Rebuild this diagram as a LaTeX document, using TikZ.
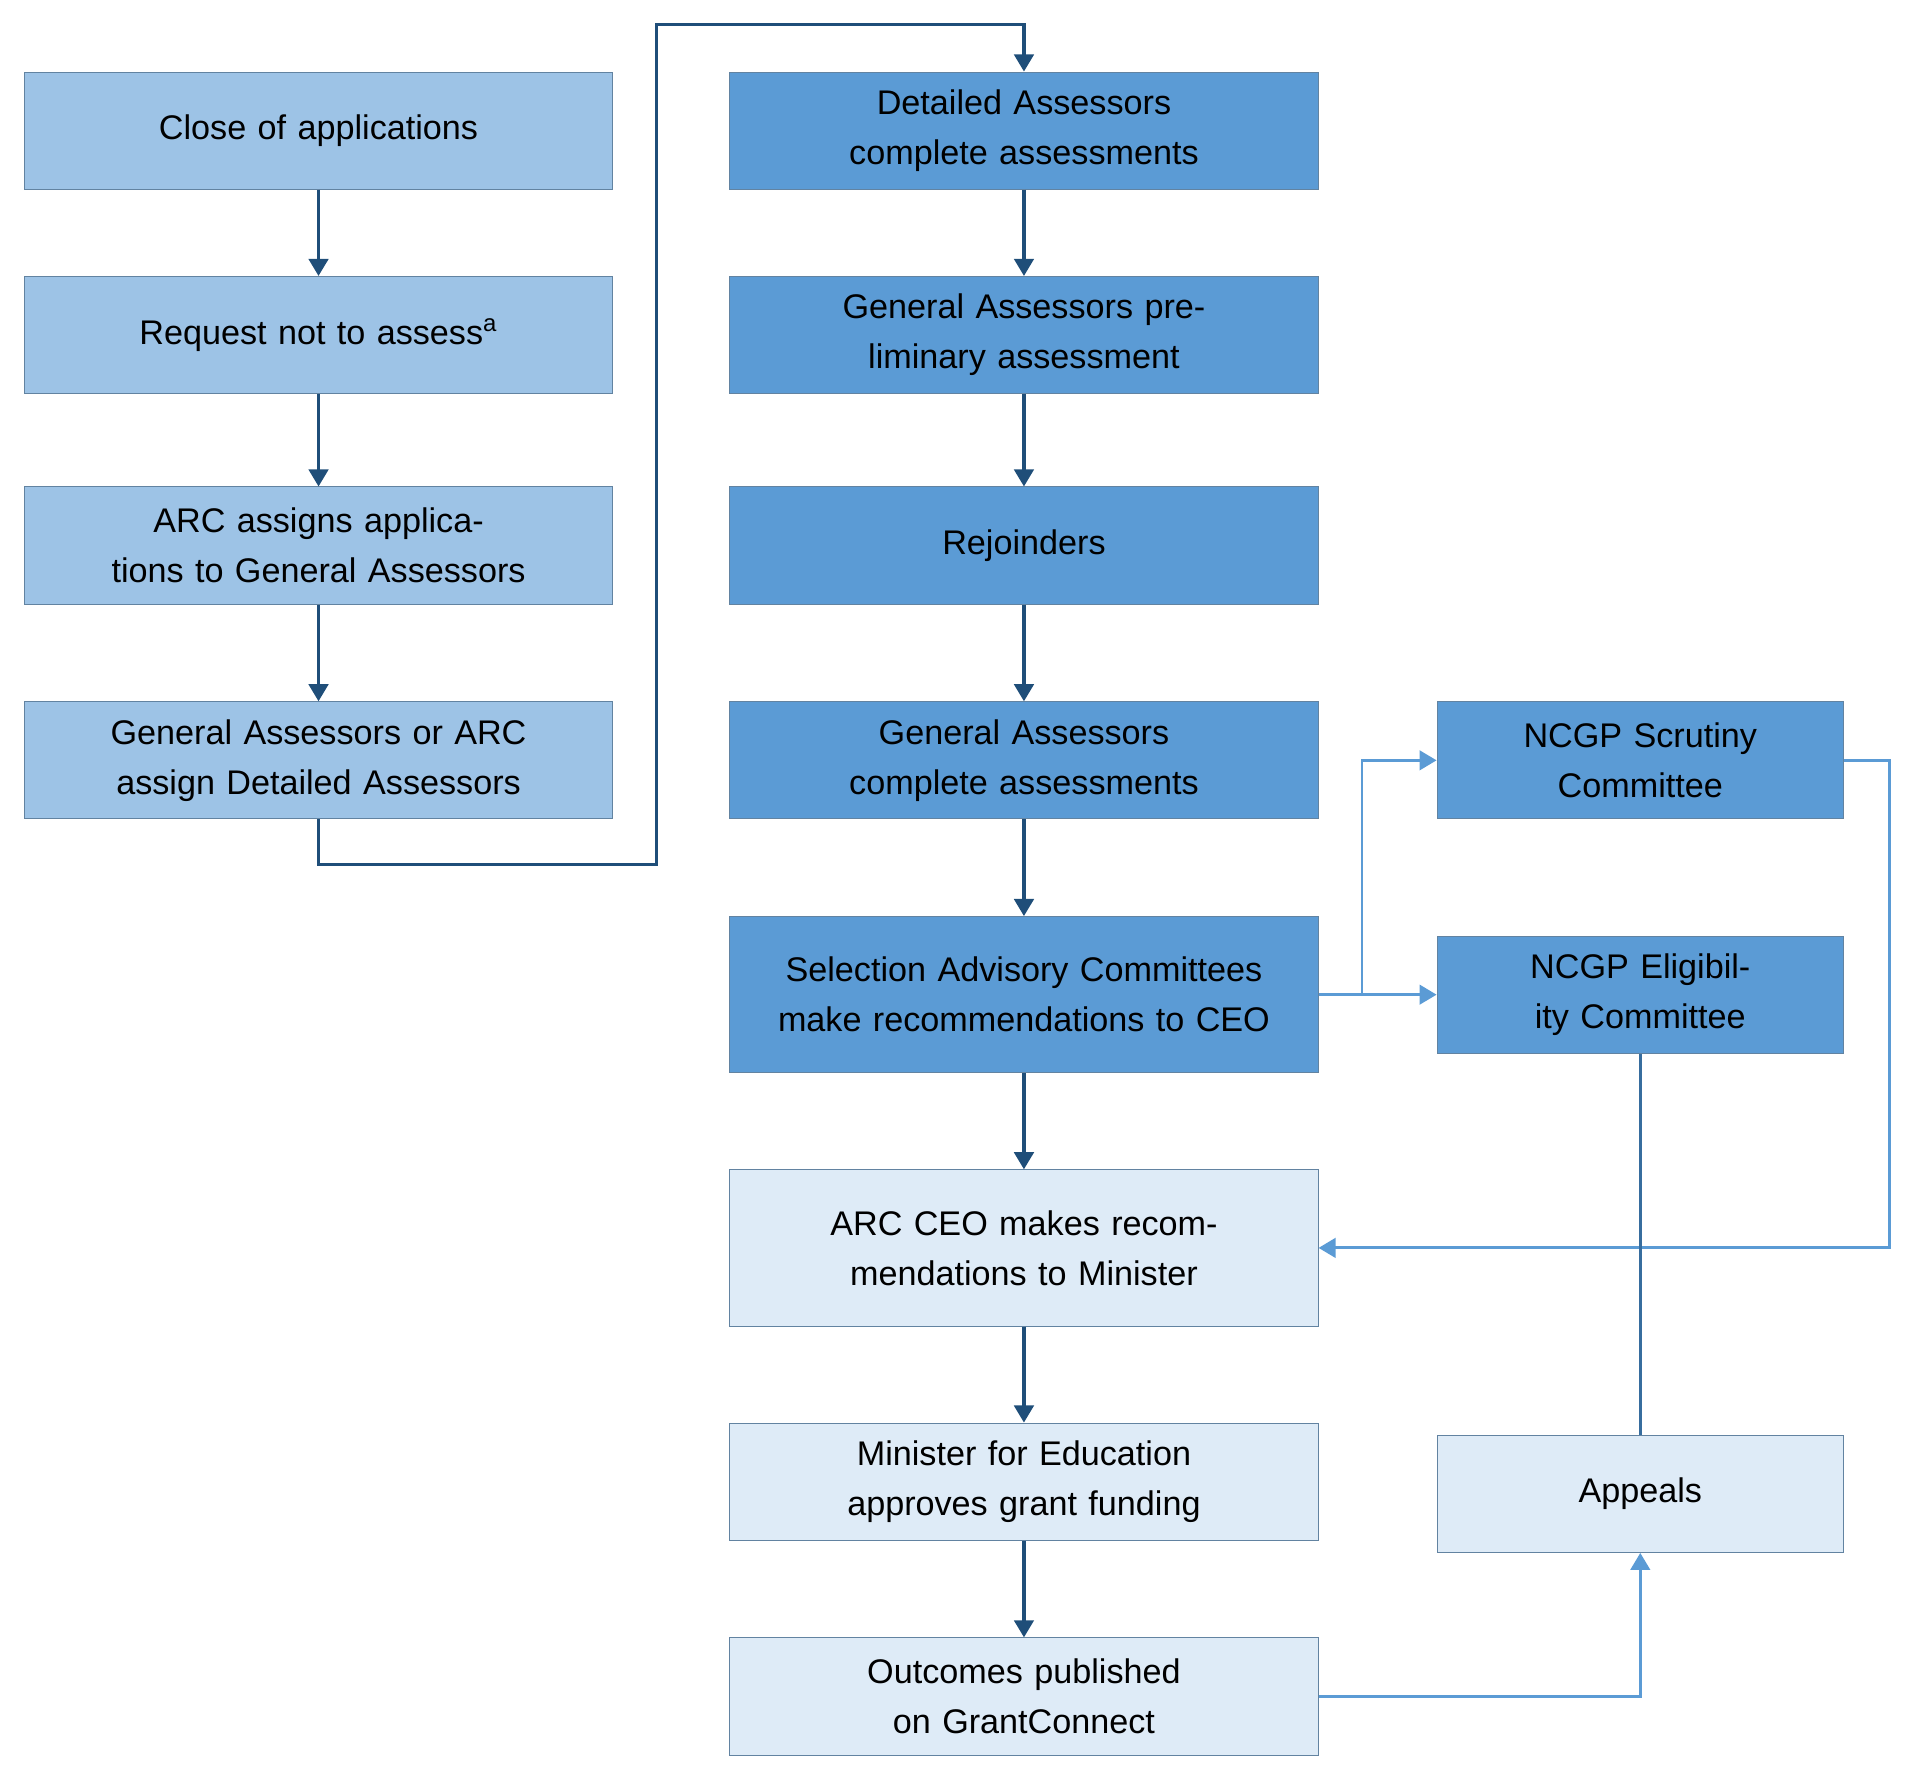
\documentclass[tikz,border=0pt]{standalone}
\usepackage{fontspec}
\setmainfont{Liberation Sans}
\usetikzlibrary{arrows.meta}
\definecolor{boxlight}{HTML}{9DC3E6}
\definecolor{boxmid}{HTML}{5B9BD5}
\definecolor{boxpale}{HTML}{DEEBF7}
\definecolor{linedark}{HTML}{1F4E79}
\definecolor{linelight}{HTML}{5B9BD5}
\tikzset{
  stage/.style={draw=linedark!70, line width=0.4pt, inner sep=1pt, align=center,
    text width=230pt, minimum width=241pt, minimum height=48pt,
    font=\fontsize{14}{20.5}\selectfont},
  side/.style={stage, text width=160pt, minimum width=166.5pt},
  flow/.style={draw=linedark, line width=1.3pt, -{Triangle[length=7pt,width=8pt]}},
  back/.style={draw=linelight, line width=1.2pt, -{Triangle[length=7pt,width=8pt]}}
}
\begin{document}
\begin{tikzpicture}[x=0.5pt,y=-0.5pt]
\useasboundingbox (0,0) rectangle (1565,1460);

% left column
\node[stage, fill=boxlight] (close) at (261,107) {Close of applications};
\node[stage, fill=boxlight] (request) at (261,274.5) {Request not to assess\textsuperscript{a}};
\node[stage, fill=boxlight] (assign) at (261,447) {ARC assigns applications to General Assessors};
\node[stage, fill=boxlight] (detail) at (261,623) {General Assessors or ARC assign Detailed Assessors};

% middle column
\node[stage, fill=boxmid] (dcomplete) at (839,107) {Detailed Assessors complete assessments};
\node[stage, fill=boxmid] (prelim) at (839,274.5) {General Assessors preliminary assessment};
\node[stage, fill=boxmid] (rejoin) at (839,447) {Rejoinders};
\node[stage, fill=boxmid] (gcomplete) at (839,623) {General Assessors complete assessments};
\node[stage, fill=boxmid, minimum height=64pt] (sac) at (839,815) {Selection Advisory Committees make recommendations to CEO};
\node[stage, fill=boxpale, minimum height=64pt] (ceo) at (839,1022.5) {ARC CEO makes recommendations to Minister};
\node[stage, fill=boxpale] (minister) at (839,1214) {Minister for Education approves grant funding};
\node[stage, fill=boxpale] (outcomes) at (839,1390) {Outcomes published on GrantConnect};

% right column
\node[side, fill=boxmid] (scrutiny) at (1344,623) {NCGP Scrutiny Committee};
\node[side, fill=boxmid] (eligible) at (1344,815) {NCGP Eligibility Committee};
\node[side, fill=boxpale] (appeals) at (1344,1224) {Appeals};

\coordinate (split) at (1116,815);

% connectors
\draw[flow] (close) -- (request);
\draw[flow] (request) -- (assign);
\draw[flow] (assign) -- (detail);
\draw[flow] (detail.south) -- ++(0,37) -| (538,20) -| (dcomplete.north);
\draw[flow] (dcomplete) -- (prelim);
\draw[flow] (prelim) -- (rejoin);
\draw[flow] (rejoin) -- (gcomplete);
\draw[flow] (gcomplete) -- (sac);
\draw[flow] (sac) -- (ceo);
\draw[flow] (ceo) -- (minister);
\draw[flow] (minister) -- (outcomes);
\draw[back] (sac) -- (eligible);
\draw[back] (split) |- (scrutiny.west);
\draw[back] (scrutiny.east) -- ++(37,0) |- (ceo.east);
\draw[draw=linedark!60!linelight, line width=1.2pt] (eligible) -- (appeals);
\draw[back] (outcomes.east) -| (appeals.south);
\end{tikzpicture}
\end{document}
